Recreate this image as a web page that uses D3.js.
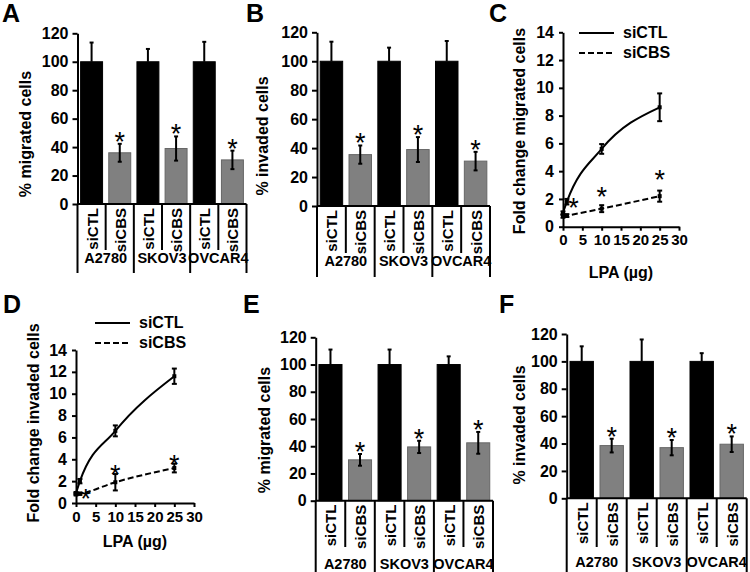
<!DOCTYPE html>
<html lang="en">
<head>
  <title>CBS knockdown migration / invasion</title>
  <script type="text/javascript" src="https://cdnjs.cloudflare.com/ajax/libs/d3/7.8.5/d3.min.js"></script>
  <style>
    body { margin: 0px; background: #ffffff; }
    svg { display: block; font-family: "Liberation Sans", Arial, sans-serif; font-weight: bold; }
  </style>
</head>
<body>
  <script type="text/javascript">
    // ---- data ----
    var groups = ["A2780", "SKOV3", "OVCAR4"];
    var conditions = ["siCTL", "siCBS"];
    var barTicks = [0, 20, 40, 60, 80, 100, 120];

    // A: % migrated cells
    var migA_ctl = [100, 100, 100];
    var migA_ctlErr = [13.5, 9, 14];
    var migA_cbs = [36, 39, 31];
    var migA_cbsErr = [6.3, 8.5, 6.5];
    // B: % invaded cells
    var invB_ctl = [100, 100, 100];
    var invB_ctlErr = [13.5, 9.4, 14];
    var invB_cbs = [35.5, 39, 31];
    var invB_cbsErr = [6.3, 8.6, 6.4];
    // E: % migrated cells
    var migE_ctl = [100, 100, 100];
    var migE_ctlErr = [11, 11, 6];
    var migE_cbs = [30, 39.5, 42.5];
    var migE_cbsErr = [4.3, 4.5, 8];
    // F: % invaded cells
    var invF_ctl = [100, 100, 100];
    var invF_ctlErr = [11, 16, 6];
    var invF_cbs = [38.5, 37, 39.5];
    var invF_cbsErr = [5, 5.6, 5.7];

    // C / D: fold change vs LPA dose
    var lpaDoses = [0, 1, 10, 25];
    var lineTicksX = [0, 5, 10, 15, 20, 25, 30];
    var lineTicksY = [0, 2, 4, 6, 8, 10, 12, 14];
    var migC_ctl = [1.0, 1.8, 5.6, 8.6];
    var migC_ctlErr = [0.1, 0.2, 0.35, 1.0];
    var migC_cbs = [0.75, 0.8, 1.3, 2.2];
    var migC_cbsErr = [0.1, 0.1, 0.25, 0.4];
    var migC_stars = [[2.7, 1.8], [10, 2.6], [25, 3.8]];
    var invD_ctl = [0.9, 2.0, 6.6, 11.6];
    var invD_ctlErr = [0.1, 0.2, 0.5, 0.7];
    var invD_cbs = [0.8, 0.85, 1.9, 3.2];
    var invD_cbsErr = [0.1, 0.1, 0.75, 0.4];
    var invD_stars = [[2.5, 0.9], [10, 3.1], [25, 4.0]];

    var svg = d3.select("body").append("svg")
      .attr("width", 750)
      .attr("height", 572);

    function star(g, cx, cy) {
      // glyph centre of "*" sits ~0.57em above the baseline
      g.append("text")
        .attr("x", cx).attr("y", cy + 15)
        .attr("text-anchor", "middle")
        .style("font-weight", "normal")
        .style("font-size", "27px")
        .text("*");
    }

    function letter(x, y, t) {
      svg.append("text").attr("x", x).attr("y", y)
        .style("font-size", "25px").text(t);
    }

    function styleAxis(a, size) {
      a.select(".domain").attr("stroke-width", 2);
      a.selectAll(".tick line").attr("stroke-width", 2);
      a.selectAll(".tick text")
        .style("font-family", "'Liberation Sans', Arial, sans-serif")
        .style("font-weight", "bold")
        .style("font-size", (size || 16) + "px")
        .attr("fill", "#000");
    }

    function barPanel(o) {
      var g = svg.append("g");
      var slots = [];
      groups.forEach(function (gr) {
        conditions.forEach(function (c) { slots.push(gr + "|" + c); });
      });
      var y = d3.scaleLinear().domain([0, 120]).range([o.y0, o.y1]);
      var x = d3.scaleBand().domain(slots).range([o.x0, o.x1])
        .paddingInner(0.22).paddingOuter(0.11);
      var step = x.step();

      var bars = [];
      groups.forEach(function (gr, i) {
        bars.push({ key: gr + "|siCTL", v: o.ctl[i], e: o.ctlErr[i], ctl: true });
        bars.push({ key: gr + "|siCBS", v: o.cbs[i], e: o.cbsErr[i], ctl: false });
      });

      g.selectAll("rect.bar").data(bars).enter().append("rect")
        .attr("class", "bar")
        .attr("x", function (d) { return x(d.key); })
        .attr("y", function (d) { return y(d.v); })
        .attr("width", x.bandwidth())
        .attr("height", function (d) { return y(0) - y(d.v); })
        .attr("fill", function (d) { return d.ctl ? "#000" : "#808080"; })
        .attr("stroke", function (d) { return d.ctl ? "#000" : "#666"; })
        .attr("stroke-width", 1);

      // error bars (control bars only show the upper half)
      bars.forEach(function (d) {
        var cx = x(d.key) + x.bandwidth() / 2;
        var lo = d.ctl ? d.v : d.v - d.e;
        g.append("line").attr("x1", cx).attr("x2", cx)
          .attr("y1", y(lo)).attr("y2", y(d.v + d.e))
          .attr("stroke", "#000").attr("stroke-width", 2);
        g.append("line").attr("x1", cx - 2).attr("x2", cx + 2)
          .attr("y1", y(d.v + d.e)).attr("y2", y(d.v + d.e))
          .attr("stroke", "#000").attr("stroke-width", 2);
        if (!d.ctl) {
          g.append("line").attr("x1", cx - 2).attr("x2", cx + 2)
            .attr("y1", y(d.v - d.e)).attr("y2", y(d.v - d.e))
            .attr("stroke", "#000").attr("stroke-width", 2);
          star(g, cx, y(d.v + d.e) - 8);
        }
      });

      var ya = g.append("g").attr("transform", "translate(" + o.x0 + ",0)")
        .call(d3.axisLeft(y).tickValues(barTicks).tickSize(5).tickSizeOuter(0).tickPadding(4));
      styleAxis(ya);

      // category axis with separator lines
      g.append("line").attr("x1", o.x0).attr("x2", o.x1)
        .attr("y1", o.y0).attr("y2", o.y0)
        .attr("stroke", "#000").attr("stroke-width", 2);
      d3.range(slots.length + 1).forEach(function (i) {
        var lx = o.x0 + i * step;
        g.append("line").attr("x1", lx).attr("x2", lx)
          .attr("y1", o.y0).attr("y2", i % 2 === 0 ? o.longY : o.shortY)
          .attr("stroke", "#000").attr("stroke-width", 2);
      });
      slots.forEach(function (s) {
        var cx = x(s) + x.bandwidth() / 2 + 6;
        g.append("text")
          .attr("transform", "translate(" + cx + "," + (o.y0 + 4) + ") rotate(-90)")
          .attr("text-anchor", "end")
          .style("font-size", "15px")
          .text(s.split("|")[1]);
      });
      groups.forEach(function (gr, i) {
        g.append("text")
          .attr("x", o.x0 + (i * 2 + 1) * step)
          .attr("y", o.groupY)
          .attr("text-anchor", "middle")
          .style("font-size", "14.5px")
          .text(gr);
      });

      g.append("text")
        .attr("transform", "translate(" + o.labX + "," + o.labY + ") rotate(-90)")
        .attr("text-anchor", "middle")
        .style("font-size", "16px")
        .text(o.label);
    }

    function linePanel(o) {
      var g = svg.append("g");
      var x = d3.scaleLinear().domain([0, 30]).range([o.x0, o.x1]);
      var y = d3.scaleLinear().domain([0, 14]).range([o.y0, o.y1]);
      var line = d3.line()
        .x(function (d) { return x(d[0]); })
        .y(function (d) { return y(d[1]); })
        .curve(d3.curveMonotoneX);

      var series = [
        { v: o.ctl, e: o.ctlErr, dash: null },
        { v: o.cbs, e: o.cbsErr, dash: "6,3" }
      ];
      series.forEach(function (s) {
        var pts = lpaDoses.map(function (d, i) { return [d, s.v[i]]; });
        g.append("path").datum(pts)
          .attr("d", line)
          .attr("fill", "none").attr("stroke", "#000").attr("stroke-width", 2)
          .attr("stroke-dasharray", s.dash);
        lpaDoses.forEach(function (d, i) {
          var cx = x(d);
          g.append("line").attr("x1", cx).attr("x2", cx)
            .attr("y1", y(s.v[i] - s.e[i])).attr("y2", y(s.v[i] + s.e[i]))
            .attr("stroke", "#000").attr("stroke-width", 2);
          [s.v[i] - s.e[i], s.v[i] + s.e[i]].forEach(function (yy) {
            g.append("line").attr("x1", cx - 2.5).attr("x2", cx + 2.5)
              .attr("y1", y(yy)).attr("y2", y(yy))
              .attr("stroke", "#000").attr("stroke-width", 2);
          });
          g.append("rect").attr("x", cx - 2).attr("y", y(s.v[i]) - 2)
            .attr("width", 4).attr("height", 4).attr("fill", "#000");
        });
      });

      o.stars.forEach(function (p) { star(g, x(p[0]), y(p[1])); });

      var ya = g.append("g").attr("transform", "translate(" + o.x0 + ",0)")
        .call(d3.axisLeft(y).tickValues(lineTicksY).tickSize(4).tickSizeOuter(0).tickPadding(5));
      styleAxis(ya);
      var xa = g.append("g").attr("transform", "translate(0," + o.y0 + ")")
        .call(d3.axisBottom(x).tickValues(lineTicksX).tickSize(4).tickSizeOuter(0).tickPadding(4));
      styleAxis(xa, 15);

      g.append("text")
        .attr("x", (o.x0 + o.x1) / 2).attr("y", o.xlabY)
        .attr("text-anchor", "middle")
        .style("font-size", "16px")
        .text("LPA (\u00b5g)");
      g.append("text")
        .attr("transform", "translate(" + o.labX + "," + o.labY + ") rotate(-90)")
        .attr("text-anchor", "middle")
        .style("font-size", "16px")
        .text(o.label);

      // legend
      [["siCTL", null], ["siCBS", "6,3"]].forEach(function (l, i) {
        var ly = o.legY + i * 20;
        g.append("line").attr("x1", o.legX).attr("x2", o.legX + 35)
          .attr("y1", ly).attr("y2", ly)
          .attr("stroke", "#000").attr("stroke-width", 2)
          .attr("stroke-dasharray", l[1]);
        g.append("text").attr("x", o.legX + 44).attr("y", ly + 5)
          .style("font-size", "16px").text(l[0]);
      });
    }

    barPanel({ x0: 77.5, x1: 246.5, y0: 204, y1: 33.3, shortY: 250, longY: 273, groupY: 263,
      ctl: migA_ctl, ctlErr: migA_ctlErr, cbs: migA_cbs, cbsErr: migA_cbsErr,
      label: "% migrated cells", labX: 31, labY: 134 });
    barPanel({ x0: 317, x1: 490, y0: 206, y1: 32.3, shortY: 253, longY: 277, groupY: 266,
      ctl: invB_ctl, ctlErr: invB_ctlErr, cbs: invB_cbs, cbsErr: invB_cbsErr,
      label: "% invaded cells", labX: 268, labY: 136 });
    barPanel({ x0: 315.7, x1: 493, y0: 500.7, y1: 337.3, shortY: 547, longY: 572, groupY: 569,
      ctl: migE_ctl, ctlErr: migE_ctlErr, cbs: migE_cbs, cbsErr: migE_cbsErr,
      label: "% migrated cells", labX: 270, labY: 430 });
    barPanel({ x0: 566.7, x1: 746.7, y0: 498.3, y1: 334, shortY: 547, longY: 572, groupY: 567,
      ctl: invF_ctl, ctlErr: invF_ctlErr, cbs: invF_cbs, cbsErr: invF_cbsErr,
      label: "% invaded cells", labX: 525, labY: 425 });

    linePanel({ x0: 563, x1: 679, y0: 226.7, y1: 32.3, xlabY: 278, labX: 525, labY: 131,
      legX: 579, legY: 33,
      ctl: migC_ctl, ctlErr: migC_ctlErr, cbs: migC_cbs, cbsErr: migC_cbsErr, stars: migC_stars,
      label: "Fold change migrated cells" });
    linePanel({ x0: 76, x1: 194, y0: 503, y1: 350, xlabY: 547, labX: 39, labY: 423,
      legX: 95, legY: 323,
      ctl: invD_ctl, ctlErr: invD_ctlErr, cbs: invD_cbs, cbsErr: invD_cbsErr, stars: invD_stars,
      label: "Fold change invaded cells" });

    letter(2, 22, "A");
    letter(246, 22, "B");
    letter(489, 22, "C");
    letter(3, 313, "D");
    letter(243, 313, "E");
    letter(499, 313, "F");
  </script>
</body>
</html>
